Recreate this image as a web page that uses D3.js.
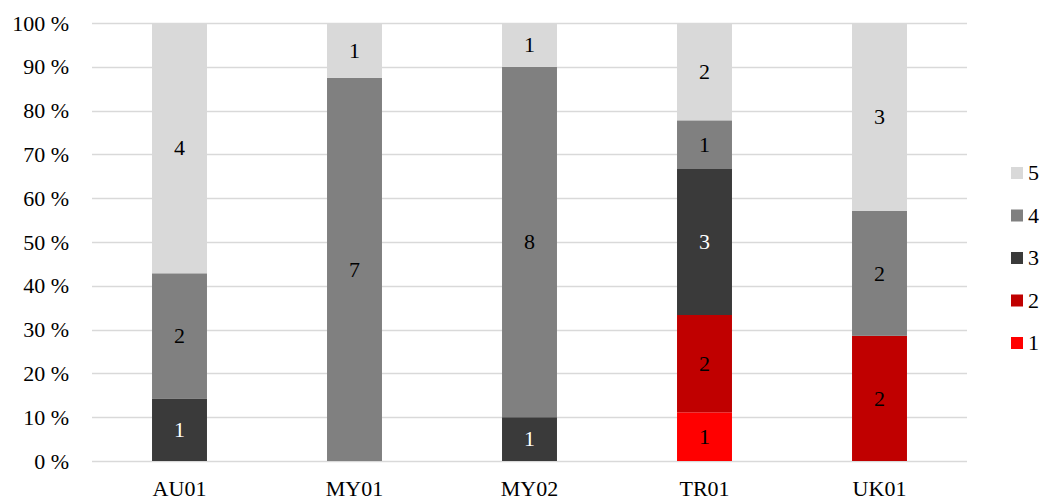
<!DOCTYPE html>
<html>
<head>
<meta charset="utf-8">
<script src="https://cdn.jsdelivr.net/npm/d3@7"></script>
<style>
  body { margin: 0; background: #fff; }
  svg { display: block; }
</style>
</head>
<body>
<svg id="chart" width="1043" height="500"></svg>
<script>
// Sites along the x axis
const sites = ["AU01", "MY01", "MY02", "TR01", "UK01"];
// Rating levels (stack order bottom to top)
const levels = ["1", "2", "3", "4", "5"];
// Response counts per level, one entry per site
const level1 = [0, 0, 0, 1, 0];
const level2 = [0, 0, 0, 2, 2];
const level3 = [1, 0, 1, 3, 0];
const level4 = [2, 7, 8, 1, 2];
const level5 = [4, 1, 1, 2, 3];
// Y tick values (share of responses)
const yTicks = [0, 0.1, 0.2, 0.3, 0.4, 0.5, 0.6, 0.7, 0.8, 0.9, 1];

const colors = { "1": "#ff0000", "2": "#c00000", "3": "#3a3a3a", "4": "#808080", "5": "#d9d9d9" };
const labelColors = { "1": "#000", "2": "#000", "3": "#fff", "4": "#000", "5": "#000" };
const FONT = '"Liberation Serif"';
const FS = "22px";

const counts = [level1, level2, level3, level4, level5];
const rows = sites.map((s, i) => {
  const r = { site: s };
  levels.forEach((l, j) => { r[l] = counts[j][i]; });
  return r;
});

const svg = d3.select("#chart");
const plotLeft = 92, plotRight = 967, plotTop = 23, plotBottom = 461;

const x = d3.scaleBand().domain(sites).range([plotLeft, plotRight]).paddingInner(0.686).paddingOuter(0.343);
const y = d3.scaleLinear().domain([0, 1]).range([plotBottom, plotTop]);

const stack = d3.stack().keys(levels).offset(d3.stackOffsetExpand);
const series = stack(rows);

function serif(sel) {
  sel.attr("font-family", null).style("font-family", FONT).style("font-size", FS).attr("fill", "#000");
}

// Gridlines
svg.append("g").selectAll("line").data(yTicks).join("line")
  .attr("x1", plotLeft).attr("x2", plotRight)
  .attr("y1", d => Math.round(y(d)) + 0.5).attr("y2", d => Math.round(y(d)) + 0.5)
  .attr("stroke", "#d9d9d9").attr("stroke-width", 1.3);

// Y axis labels
const yAxis = d3.axisLeft(y).tickValues(yTicks).tickFormat(d => Math.round(d * 100) + " %").tickSize(0).tickPadding(23);
const gy = svg.append("g").attr("transform", `translate(${plotLeft},0)`).call(yAxis);
gy.attr("font-family", null).attr("font-size", null);
gy.select(".domain").remove();
gy.selectAll("text").call(serif);

// Bars
const layer = svg.append("g").selectAll("g").data(series).join("g")
  .attr("fill", d => colors[d.key]);
layer.selectAll("rect").data(d => d.filter(v => v[1] - v[0] > 0)).join("rect")
  .attr("x", v => x(v.data.site))
  .attr("width", x.bandwidth())
  .attr("y", v => y(v[1]))
  .attr("height", v => y(v[0]) - y(v[1]));

// Count labels inside segments
const labels = svg.append("g");
series.forEach(s => {
  s.forEach(v => {
    const n = v.data[s.key];
    if (!n) return;
    labels.append("text")
      .attr("x", x(v.data.site) + x.bandwidth() / 2)
      .attr("y", y((v[0] + v[1]) / 2))
      .attr("dy", "0.33em")
      .attr("text-anchor", "middle")
      .text(n)
      .call(serif)
      .attr("fill", labelColors[s.key]);
  });
});

// X axis labels
const xAxis = d3.axisBottom(x).tickSize(0).tickPadding(19);
const gx = svg.append("g").attr("transform", `translate(0,${plotBottom})`).call(xAxis);
gx.attr("font-family", null).attr("font-size", null);
gx.select(".domain").remove();
gx.selectAll("text").call(serif);

// Legend (top to bottom: 5 .. 1)
const legendY = d3.scalePoint().domain(levels.slice().reverse()).range([173, 343]);
const lg = svg.append("g").selectAll("g").data(levels.slice().reverse()).join("g")
  .attr("transform", d => `translate(1011,${legendY(d)})`);
lg.append("rect").attr("x", 0).attr("y", -6).attr("width", 12).attr("height", 12).attr("fill", d => colors[d]);
lg.append("text").attr("x", 17).attr("dy", "0.33em").text(d => d).call(serif);
</script>
</body>
</html>
